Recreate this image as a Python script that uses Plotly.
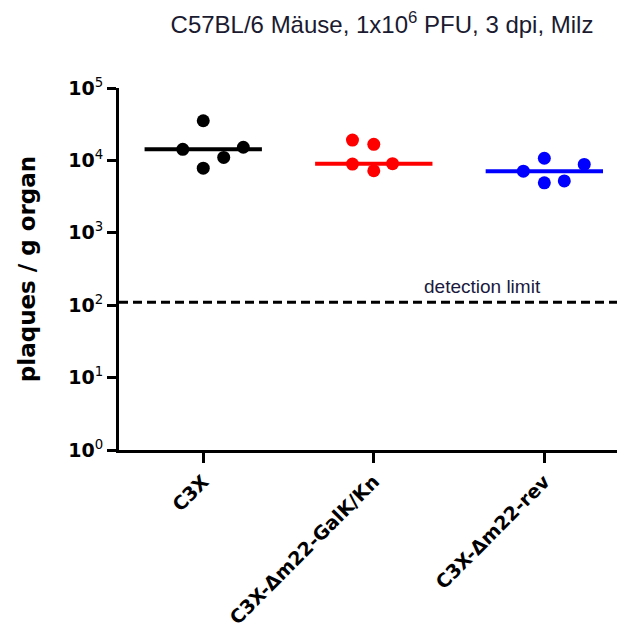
import numpy as np
import plotly.graph_objects as go

categories = ["C3X", "C3X-Δm22-GalK/Kn", "C3X-Δm22-rev"]
c3x = [14200, 35300, 7800, 11000, 15200]
galk = [8900, 19100, 16700, 7200, 9000]
rev = [7100, 10700, 4900, 5200, 8800]
detection_limit = 110
ytick_exponents = [0, 1, 2, 3, 4, 5]

series = [c3x, galk, rev]
colors = ["#000000", "#FF0000", "#0000FF"]
jitter = [
    [-0.12, 0.0, 0.0, 0.12, 0.235],
    [-0.125, -0.125, 0.0, 0.0, 0.11],
    [-0.123, 0.0, 0.0, 0.117, 0.234],
]
half_w = 0.344
x_range = [-0.494, 2.473]

fig = go.Figure()
for i, (vals, col, jit) in enumerate(zip(series, colors, jitter)):
    med = float(np.median(vals))
    fig.add_trace(go.Scatter(
        x=[i - half_w, i + half_w], y=[med, med], mode="lines",
        line=dict(color=col, width=4), showlegend=False, hoverinfo="skip"))
    fig.add_trace(go.Scatter(
        x=[i + j for j in jit], y=vals, mode="markers",
        marker=dict(color=col, size=13), showlegend=False))

fig.add_trace(go.Scatter(
    x=x_range, y=[detection_limit, detection_limit], mode="lines",
    line=dict(color="black", width=3, dash="9px,5px"), showlegend=False,
    hoverinfo="skip", cliponaxis=False))

fig.add_annotation(x=1.64, y=np.log10(detection_limit), xref="x", yref="y",
                   text="detection limit", showarrow=False, yanchor="bottom",
                   yshift=3, font=dict(family="Liberation Sans", size=19, color="#1a1a40"))

fig.update_layout(
    width=625, height=635,
    margin=dict(l=111, r=8, t=80, b=193),
    paper_bgcolor="white", plot_bgcolor="white",
    font=dict(family="DejaVu Sans", color="black"),
    title=dict(text="C57BL/6 Mäuse, 1x10<sup>6</sup> PFU, 3 dpi, Milz",
               x=374 / 625, xanchor="center", xref="container",
               y=1 - 17 / 635, yanchor="middle", yref="container",
               font=dict(family="Liberation Sans", size=24, color="#1a1a30")),
)
fig.update_xaxes(
    range=x_range, tickvals=[0, 1, 2], ticktext=categories,
    tickangle=-45, ticks="outside", ticklen=10, tickwidth=3, tickcolor="black",
    showline=True, linewidth=3, linecolor="black", showgrid=False, zeroline=False,
    automargin=False,
    tickfont=dict(family="DejaVu Sans", size=19, color="black", weight="bold"))
fig.update_yaxes(
    type="log", range=[0, 5],
    tickvals=[10 ** e for e in ytick_exponents],
    ticktext=[f"<b>10</b><sup>{e}</sup>" for e in ytick_exponents],
    ticks="outside", ticklen=9, tickwidth=3, tickcolor="black",
    showline=True, linewidth=3, linecolor="black", showgrid=False, zeroline=False,
    automargin=False,
    tickfont=dict(family="DejaVu Sans", size=19, color="black"),
    title=dict(text="<b>plaques / g organ</b>", standoff=27,
               font=dict(family="DejaVu Sans", size=23, color="black")))

fig.write_html("out.html")
